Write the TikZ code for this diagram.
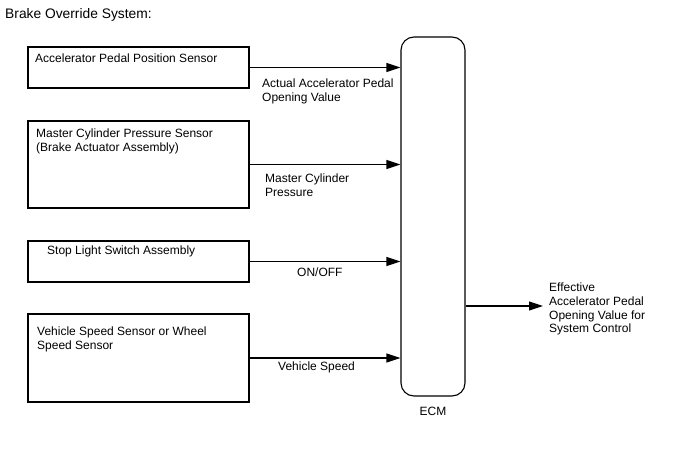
\documentclass[tikz,border=0pt]{standalone}
\usepackage{fontspec}
\setmainfont{Liberation Sans}
\usetikzlibrary{arrows.meta,positioning}

\begin{document}
\begin{tikzpicture}[x=1pt, y=-1pt,
    font=\fontsize{12}{13.8}\selectfont,
    sensor/.style={draw, line width=1.1pt, minimum width=221pt, inner sep=0pt},
    txt/.style={anchor=west, align=left, inner sep=0pt},
    sig/.style={line width=1.1pt, -{Triangle[length=14pt, width=9pt]}}]
    \useasboundingbox (0,0) rectangle (688,463);

    \node[txt, font=\fontsize{13.8}{16}\selectfont] (title) at (5,15) {Brake Override System:};

    % sensor boxes
    \node[sensor, minimum height=41pt] (accel) at (138.5,67.5) {};
    \node[sensor, minimum height=87pt] (mcyl) at (138.5,164.5) {};
    \node[sensor, minimum height=41pt] (stop) at (138.5,261.5) {};
    \node[sensor, minimum height=88pt] (speed) at (138.5,358) {};

    \node[txt] (acceltext) at (35,58) {Accelerator Pedal Position Sensor};
    \node[txt] (mcyltext) at (36,141.5) {Master Cylinder Pressure Sensor\\(Brake Actuator Assembly)};
    \node[txt] (stoptext) at (47,251) {Stop Light Switch Assembly};
    \node[txt] (speedtext) at (37,339) {Vehicle Speed Sensor or Wheel\\Speed Sensor};

    % ECM
    \node[draw, line width=1.1pt, rounded corners=13pt, minimum width=64pt, minimum height=359pt] (ecm) at (433,216.5) {};
    \node[inner sep=0pt] (ecmtext) at (433,411) {ECM};

    \foreach \s in {accel, mcyl, stop, speed}
        \draw[sig] (\s.east) -- (ecm.west |- \s.east);

    \node[txt] (accelsig) at (262,91.5) {Actual Accelerator Pedal\\Opening Value};
    \node[txt] (mcylsig) at (265,185) {Master Cylinder\\Pressure};
    \node[txt] (stopsig) at (297,272) {ON/OFF};
    \node[txt] (speedsig) at (278,367) {Vehicle Speed};

    % output
    \coordinate (out) at (543,306);
    \draw[sig] (ecm.east |- out) -- (out);
    \node[txt] (outtext) at (549,309) {Effective\\Accelerator Pedal\\Opening Value for\\System Control};
\end{tikzpicture}
\end{document}
